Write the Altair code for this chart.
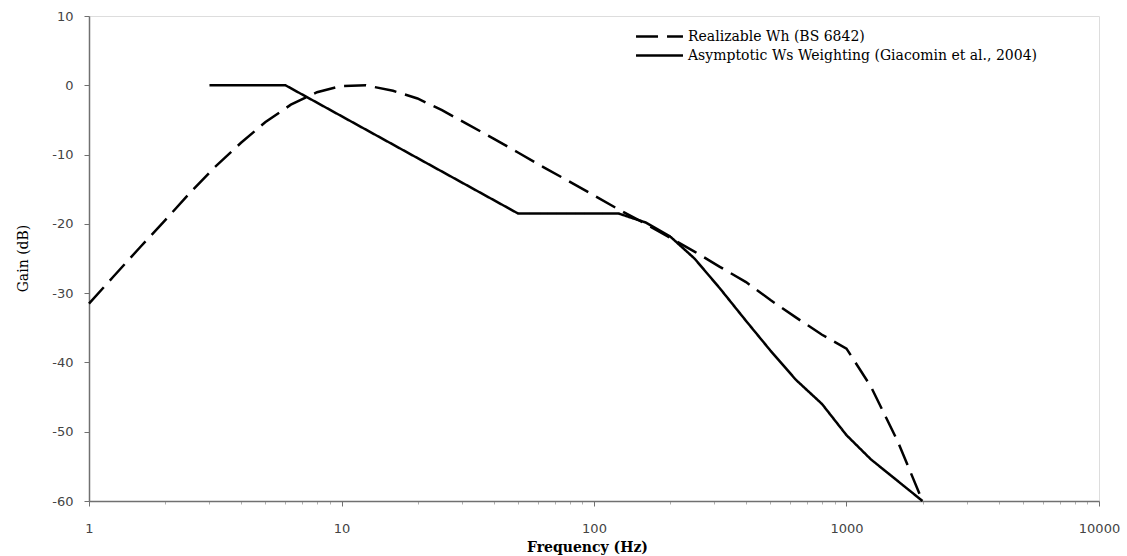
import altair as alt
import pandas as pd

# Realizable Wh (BS 6842) - dashed
wh_freq = [1, 1.25, 1.6, 2, 2.5, 3.15, 4, 5, 6.3, 8, 10, 12.5, 16, 20, 25, 31.5, 40, 50,
           63, 80, 100, 125, 160, 200, 250, 315, 400, 500, 630, 800, 1000, 1250, 1600, 2000]
wh_gain = [-31.5, -27.6, -23.3, -19.5, -15.6, -11.8, -8.3, -5.3, -2.8, -1.0, -0.1, 0.0, -0.8,
           -1.9, -3.6, -5.6, -7.7, -9.7, -11.8, -13.9, -15.9, -17.9, -20.0, -22.0, -24.0,
           -26.2, -28.4, -31.0, -33.5, -36.0, -38.0, -43.5, -51.5, -60.0]

# Asymptotic Ws weighting (Giacomin et al., 2004) - solid
ws_freq = [3, 6, 50, 125, 160, 200, 250, 315, 400, 500, 630, 800, 1000, 1250, 2000]
ws_gain = [0.0, 0.0, -18.5, -18.5, -19.8, -21.8, -25.0, -29.3, -34.0, -38.3, -42.5, -46.0,
           -50.5, -54.0, -60.0]

series_names = ["Realizable Wh (BS 6842)", "Asymptotic Ws Weighting (Giacomin et al., 2004)"]

x_tick_values = [1, 2, 3, 4, 5, 6, 7, 8, 9,
                 10, 20, 30, 40, 50, 60, 70, 80, 90,
                 100, 200, 300, 400, 500, 600, 700, 800, 900,
                 1000, 2000, 3000, 4000, 5000, 6000, 7000, 8000, 9000, 10000]
y_tick_values = [10, 0, -10, -20, -30, -40, -50, -60]

df = pd.concat([
    pd.DataFrame({"freq": wh_freq, "gain": wh_gain, "series": series_names[0]}),
    pd.DataFrame({"freq": ws_freq, "gain": ws_gain, "series": series_names[1]}),
])

major_test = "indexof([1,10,100,1000,10000], datum.value) >= 0"

chart = alt.Chart(df).mark_line(color="black", strokeWidth=2.5, strokeCap="butt").encode(
    x=alt.X("freq:Q",
            scale=alt.Scale(type="log", domain=[1, 10000], nice=False),
            axis=alt.Axis(values=x_tick_values,
                          labelExpr=f"{major_test} ? toString(datum.value) : ''",
                          tickSize={"condition": {"test": major_test, "value": 5}, "value": 3},
                          tickColor={"condition": {"test": major_test, "value": "#707070"}, "value": "#b0b0b0"},
                          grid=False, domainColor="#707070", domainWidth=1.5,
                          labelFont="DejaVu Sans", labelFontSize=13, labelColor="#444444",
                          labelPadding=16, labelFlush=False, labelOverlap=False,
                          title="Frequency (Hz)", titleFont="DejaVu Serif", titleFontSize=14,
                          titleFontWeight="bold", titleColor="black",
                          titleX=498, titleY=46, titleBaseline="middle", titleAlign="center")),
    y=alt.Y("gain:Q",
            scale=alt.Scale(domain=[-60, 10], nice=False, zero=False),
            axis=alt.Axis(values=y_tick_values, grid=False, tickSize=5, tickColor="#707070",
                          labelExpr="toString(datum.value)",
                          domainColor="#707070", domainWidth=1.5,
                          labelFont="DejaVu Sans", labelFontSize=13, labelColor="#444444",
                          labelPadding=11,
                          title="Gain (dB)", titleFont="DejaVu Serif", titleFontSize=14,
                          titleFontWeight="normal", titleColor="black", titleAngle=-90,
                          titleX=-66, titleY=242, titleBaseline="middle", titleAlign="center")),
    strokeDash=alt.StrokeDash("series:N",
                              scale=alt.Scale(domain=series_names, range=[[22, 9], [1, 0]]),
                              legend=alt.Legend(orient="none", legendX=561, legendY=11,
                                                title=None, symbolType="M-3,0H3", symbolSize=245,
                                                symbolStrokeWidth=2.5, symbolStrokeColor="black",
                                                labelFont="DejaVu Serif", labelFontSize=14,
                                                labelColor="black", labelOffset=19, labelLimit=0,
                                                rowPadding=2, padding=0)),
).properties(
    width=1010, height=485,
    autosize=alt.AutoSizeParams(type="none"),
    padding={"left": 89, "top": 16, "right": 28, "bottom": 55},
).configure_view(
    stroke="#8c8c8c", strokeWidth=1.5
).configure(background="white")

chart.save("out.html", embed_options={"renderer": "svg", "actions": False})
